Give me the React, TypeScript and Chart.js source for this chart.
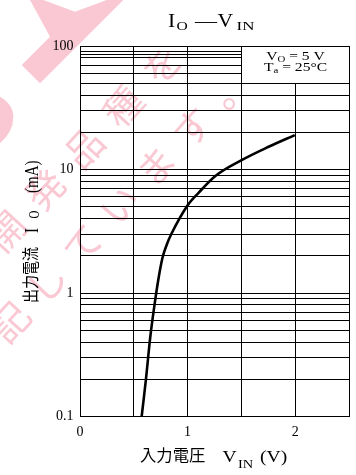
import React, { useEffect, useRef } from "react";
import { Chart, registerables } from "chart.js";

Chart.register(...registerables);

// ---- data ----
const inputVoltage = [0.573, 0.612, 0.653, 0.695, 0.727, 0.766, 0.805, 0.851, 0.996, 1.104, 1.258, 1.502, 1.748, 1.996];
const outputCurrent = [0.1, 0.197, 0.44, 0.83, 1.27, 1.92, 2.45, 3.03, 5.07, 6.5, 8.86, 11.9, 15.2, 19.0];

const xGridValues = [0, 0.5, 1, 1.5, 2, 2.5];
const xLabelValues = [0, 1, 2];
const yGridValues = [
  0.1, 0.2, 0.3, 0.4, 0.5, 0.6, 0.7, 0.8, 0.9,
  1, 2, 3, 4, 5, 6, 7, 8, 9,
  10, 20, 30, 40, 50, 60, 70, 80, 85, 90, 100,
];
const yLabelValues = [0.1, 1, 10, 100];

const conditionLines = [
  { main: "V", sub: "O", rest: " = 5 V" },
  { main: "T", sub: "a", rest: " = 25°C" },
];
const watermarkLines = ["開発品種を", "記しています。"];

const SERIF = "'Liberation Serif', 'Times New Roman', serif";
const CJK = "'Noto Sans CJK JP', 'Noto Sans CJK SC', sans-serif";

// draw text stretched horizontally by sx
function txt(ctx: CanvasRenderingContext2D, t: string, x: number, y: number, size: number, family: string, sx: number) {
  ctx.save();
  ctx.translate(x, y);
  ctx.scale(sx, 1);
  ctx.font = `${size}px ${family}`;
  ctx.textAlign = "left";
  ctx.textBaseline = "alphabetic";
  ctx.fillText(t, 0, 0);
  ctx.restore();
}

function width(ctx: CanvasRenderingContext2D, t: string, size: number, family: string, sx: number) {
  ctx.font = `${size}px ${family}`;
  return ctx.measureText(t).width * sx;
}

const annotate = {
  id: "annotate",
  beforeDraw(chart: any) {
    const ctx: CanvasRenderingContext2D = chart.ctx;
    ctx.save();
    ctx.fillStyle = "#F9C8D3";
    // big decorative stamp shape
    ctx.beginPath();
    ctx.moveTo(30, 0);
    ctx.lineTo(43.3, 0);
    ctx.lineTo(75, 11.7);
    ctx.lineTo(106.7, 0);
    ctx.lineTo(123.3, 0);
    ctx.lineTo(40, 83.3);
    ctx.lineTo(21.7, 65);
    ctx.lineTo(50, 36.7);
    ctx.closePath();
    ctx.fill();
    ctx.beginPath();
    ctx.moveTo(0, 96.7);
    ctx.quadraticCurveTo(14, 105, 13.3, 118);
    ctx.quadraticCurveTo(13, 132, 0, 143.3);
    ctx.closePath();
    ctx.fill();
    // watermark text
    const starts = [
      { x: 6, y: 231, dx: 39, dy: -41.5 },
      { x: 10, y: 322, dx: 36.5, dy: -39 },
    ];
    ctx.font = `38px ${CJK}`;
    ctx.textAlign = "center";
    ctx.textBaseline = "middle";
    watermarkLines.forEach((line, li) => {
      const s = starts[li];
      Array.from(line).forEach((ch, i) => {
        ctx.save();
        ctx.translate(s.x + s.dx * i, s.y + s.dy * i);
        ctx.rotate((-47.5 * Math.PI) / 180);
        ctx.fillText(ch, 0, 0);
        ctx.restore();
      });
    });
    ctx.restore();
  },
  afterDraw(chart: any) {
    const ctx: CanvasRenderingContext2D = chart.ctx;
    const xs = chart.scales.x;
    const ys = chart.scales.y;
    const al = (p: number) => Math.round(p - 0.5) + 0.5;
    ctx.save();
    // condition box
    const x1 = al(xs.getPixelForValue(1.5));
    const x2 = al(xs.getPixelForValue(2.5));
    const y1 = al(ys.getPixelForValue(100));
    const y2 = al(ys.getPixelForValue(50));
    ctx.fillStyle = "#fff";
    ctx.fillRect(x1, y1, x2 - x1, y2 - y1);
    ctx.strokeStyle = "#000";
    ctx.lineWidth = 1;
    ctx.strokeRect(x1, y1, x2 - x1, y2 - y1);
    ctx.fillStyle = "#000";
    const bcx = (x1 + x2) / 2;
    const baselines = [59.5, 70.5];
    const S = 1.2;
    conditionLines.forEach((ln, i) => {
      const w1 = width(ctx, ln.main, 13, SERIF, S);
      const w2 = width(ctx, ln.sub, 9, SERIF, S);
      const w3 = width(ctx, ln.rest, 13, SERIF, S);
      let x = bcx - (w1 + w2 + w3) / 2;
      txt(ctx, ln.main, x, baselines[i], 13, SERIF, S);
      x += w1;
      txt(ctx, ln.sub, x, baselines[i] + 2, 9, SERIF, S);
      x += w2;
      txt(ctx, ln.rest, x, baselines[i], 13, SERIF, S);
    });

    // title
    txt(ctx, "I", 168, 26.7, 18, SERIF, S);
    txt(ctx, "O", 176.5, 29.5, 13, SERIF, S);
    ctx.save();
    ctx.translate(195, 26.7);
    ctx.scale(22 / 18, 1);
    ctx.font = `18px ${SERIF}`;
    ctx.textAlign = "left";
    ctx.fillText("—", 0, 0);
    ctx.restore();
    txt(ctx, "V", 217.5, 26.7, 18, SERIF, S);
    txt(ctx, "IN", 236.5, 29.5, 13, SERIF, 1.3);

    // x axis title
    txt(ctx, "入力電圧", 140, 461, 16, CJK, 1.02);
    txt(ctx, "V", 222.5, 461.7, 17, SERIF, 1.15);
    txt(ctx, "IN", 238, 467.5, 12, SERIF, 1.2);
    txt(ctx, "(V)", 260, 461.7, 17, SERIF, 1.15);

    // y axis title (rotated, text reads upward)
    ctx.save();
    ctx.translate(36.5, 303);
    ctx.rotate(-Math.PI / 2);
    ctx.scale(1, 1.25);
    ctx.textAlign = "left";
    ctx.textBaseline = "alphabetic";
    ctx.font = `14px ${CJK}`;
    ctx.fillText("出力電流", 0, 0);
    ctx.font = `15px ${SERIF}`;
    ctx.fillText("I", 70, 1.2);
    ctx.font = `11px ${SERIF}`;
    ctx.fillText("O", 84.5, 2);
    ctx.font = `15px ${SERIF}`;
    ctx.fillText("(mA)", 110, 1.2);
    ctx.restore();

    ctx.restore();
  },
};

export default function App() {
  const ref = useRef<HTMLCanvasElement | null>(null);
  useEffect(() => {
    document.body.style.margin = "0";
    const canvas = ref.current;
    if (!canvas) return;
    const chart = new Chart(canvas, {
      type: "line",
      data: {
        datasets: [
          {
            data: inputVoltage.map((v, i) => ({ x: v, y: outputCurrent[i] })),
            borderColor: "#000",
            borderWidth: 2.6,
            pointRadius: 0,
            cubicInterpolationMode: "monotone",
            fill: false,
          },
        ],
      },
      options: {
        animation: false,
        responsive: false,
        devicePixelRatio: 1,
        events: [],
        layout: { padding: { top: 46, right: 4, left: 0, bottom: 0 } },
        plugins: { legend: { display: false }, title: { display: false }, tooltip: { enabled: false } },
        scales: {
          x: {
            type: "linear",
            min: 0,
            max: 2.5,
            afterBuildTicks: (s: any) => {
              s.ticks = xGridValues.map((v) => ({ value: v }));
            },
            afterFit: (s: any) => {
              s.height = 58.5;
            },
            grid: { color: "#000", lineWidth: 1, drawTicks: false },
            border: { color: "#000", width: 1 },
            ticks: {
              autoSkip: false,
              maxRotation: 0,
              padding: 7,
              color: "#000",
              font: { family: SERIF, size: 14 },
              callback: (v: any) => (xLabelValues.includes(Number(v)) ? String(v) : ""),
            },
          },
          y: {
            type: "logarithmic",
            min: 0.1,
            max: 100,
            afterBuildTicks: (s: any) => {
              s.ticks = yGridValues.map((v) => ({ value: v }));
            },
            afterFit: (s: any) => {
              s.width = 80;
            },
            grid: { color: "#000", lineWidth: 1, drawTicks: false },
            border: { color: "#000", width: 1 },
            ticks: {
              autoSkip: false,
              padding: 6.5,
              color: "#000",
              font: { family: SERIF, size: 14 },
              callback: (v: any) => (yLabelValues.includes(Number(v)) ? String(v) : ""),
            },
          },
        },
      },
      plugins: [annotate],
    } as any);
    return () => chart.destroy();
  }, []);
  return (
    <div style={{ position: "absolute", left: 0, top: 0, width: 356, height: 475 }}>
      <canvas ref={ref} width={356} height={475} />
    </div>
  );
}
